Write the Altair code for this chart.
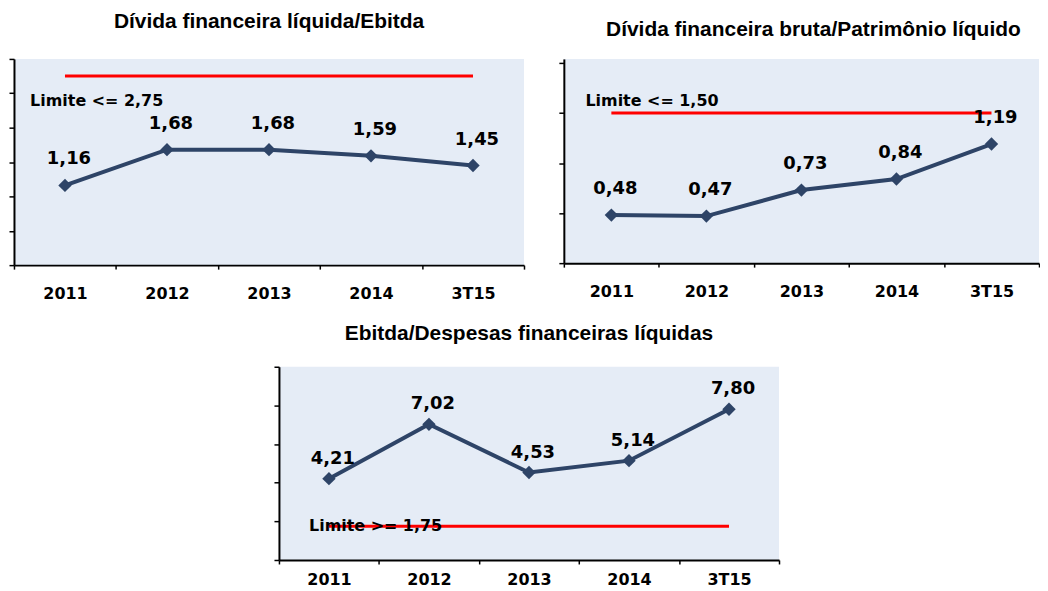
import altair as alt
import pandas as pd

cats = ["2011", "2012", "2013", "2014", "3T15"]

vals1 = [1.16, 1.68, 1.68, 1.59, 1.45]
vals2 = [0.48, 0.47, 0.73, 0.84, 1.19]
vals3 = [4.21, 7.02, 4.53, 5.14, 7.80]

titles = [
    "Dívida financeira líquida/Ebitda",
    "Dívida financeira bruta/Patrimônio líquido",
    "Ebitda/Despesas financeiras líquidas",
]
limits = [2.75, 1.50, 1.75]
limit_texts = ["Limite <= 2,75", "Limite <= 1,50", "Limite >= 1,75"]
y_domains = [[0, 3], [0, 2.04], [0, 10]]
y_ticks = [[0, 0.5, 1, 1.5, 2, 2.5, 3], [0, 0.5, 1, 1.5, 2], [0, 2, 4, 6, 8, 10]]

LINE = "#2E4467"
BG = "#E5ECF6"
LABEL_FONT = "DejaVu Sans"
TITLE_FONT = "Liberation Sans"


def panel(vals, title, limit, limtxt, ydom, yticks, w, h, title_offset, title_dx,
          lab_dy, lim_dx, lim_dy, xlab_pad):
    df = pd.DataFrame({
        "cat": cats,
        "v": vals,
        "lab": [f"{v:.2f}".replace(".", ",") for v in vals],
        "lim": [limit] * len(cats),
    })
    ldf = pd.DataFrame({"cat": [cats[0]], "lim": [limit], "t": [limtxt]})

    x = alt.X(
        "cat:N", sort=cats,
        scale=alt.Scale(type="band", paddingInner=0, paddingOuter=0),
        axis=alt.Axis(
            title=None, labelAngle=0, tickBand="extent",
            labelFont=LABEL_FONT, labelFontWeight="bold", labelFontSize=16,
            labelColor="black", labelPadding=xlab_pad,
            domainColor="black", domainWidth=2,
            tickColor="black", tickWidth=1.5, tickSize=4,
        ),
    )
    yscale = alt.Scale(domain=ydom, nice=False, zero=True)
    yaxis = alt.Axis(
        title=None, labels=False, grid=False, values=yticks,
        domainColor="black", domainWidth=2,
        tickColor="black", tickWidth=1.5, tickSize=5,
    )

    base = alt.Chart(df)
    red = base.mark_line(color="#FF0000", strokeWidth=3).encode(
        x=x, y=alt.Y("lim:Q", scale=yscale, axis=yaxis)
    )
    line = base.mark_line(color=LINE, strokeWidth=4).encode(
        x=x, y=alt.Y("v:Q", scale=yscale, axis=yaxis)
    )
    pts = base.mark_point(shape="diamond", filled=True, size=180,
                          color=LINE, opacity=1).encode(
        x=x, y=alt.Y("v:Q", scale=yscale, axis=yaxis)
    )
    labs = base.mark_text(
        font=LABEL_FONT, fontWeight="bold", fontSize=18, color="black",
        dy=lab_dy, dx=4, align="center", baseline="middle",
    ).encode(x=x, y=alt.Y("v:Q", scale=yscale, axis=yaxis), text="lab:N")
    limlab = alt.Chart(ldf).mark_text(
        font=LABEL_FONT, fontWeight="bold", fontSize=16, color="black",
        align="left", baseline="middle", dx=lim_dx, dy=lim_dy,
    ).encode(x=x, y=alt.Y("lim:Q", scale=yscale, axis=yaxis), text="t:N")

    return alt.layer(red, line, pts, labs, limlab).properties(
        width=w, height=h,
        view=alt.ViewBackground(fill=BG, strokeWidth=0),
        title=alt.TitleParams(
            title, font=TITLE_FONT, fontSize=21, fontWeight="bold",
            color="black", anchor="middle", offset=title_offset, dx=title_dx,
        ),
    )


p1 = panel(vals1, titles[0], limits[0], limit_texts[0], y_domains[0], y_ticks[0],
           512, 207, 26, 0, -26, -35, 25, 17)
p2 = panel(vals2, titles[1], limits[1], limit_texts[1], y_domains[1], y_ticks[1],
           477, 205, 19, 12, -26, -26, -12, 16)
p3 = panel(vals3, titles[2], limits[2], limit_texts[2], y_domains[2], y_ticks[2],
           502, 194, 22, 0, -20, -20, 0, 8)

# invisible spacer to place the bottom panel horizontally
spacer = alt.Chart(pd.DataFrame({"s": [0]})).mark_point(opacity=0).encode(
    x=alt.X("s:Q", axis=None), y=alt.Y("s:Q", axis=None)
).properties(width=240, height=1)

top = alt.hconcat(p1, p2, spacing=33)
bottom = alt.hconcat(spacer, p3, spacing=20)
chart = alt.vconcat(top, bottom, spacing=21).properties(
    padding={"left": 0, "top": 2, "right": 0, "bottom": 0}
).configure_view(strokeWidth=0)

chart.save("out.html", embed_options={"renderer": "svg", "actions": False})
